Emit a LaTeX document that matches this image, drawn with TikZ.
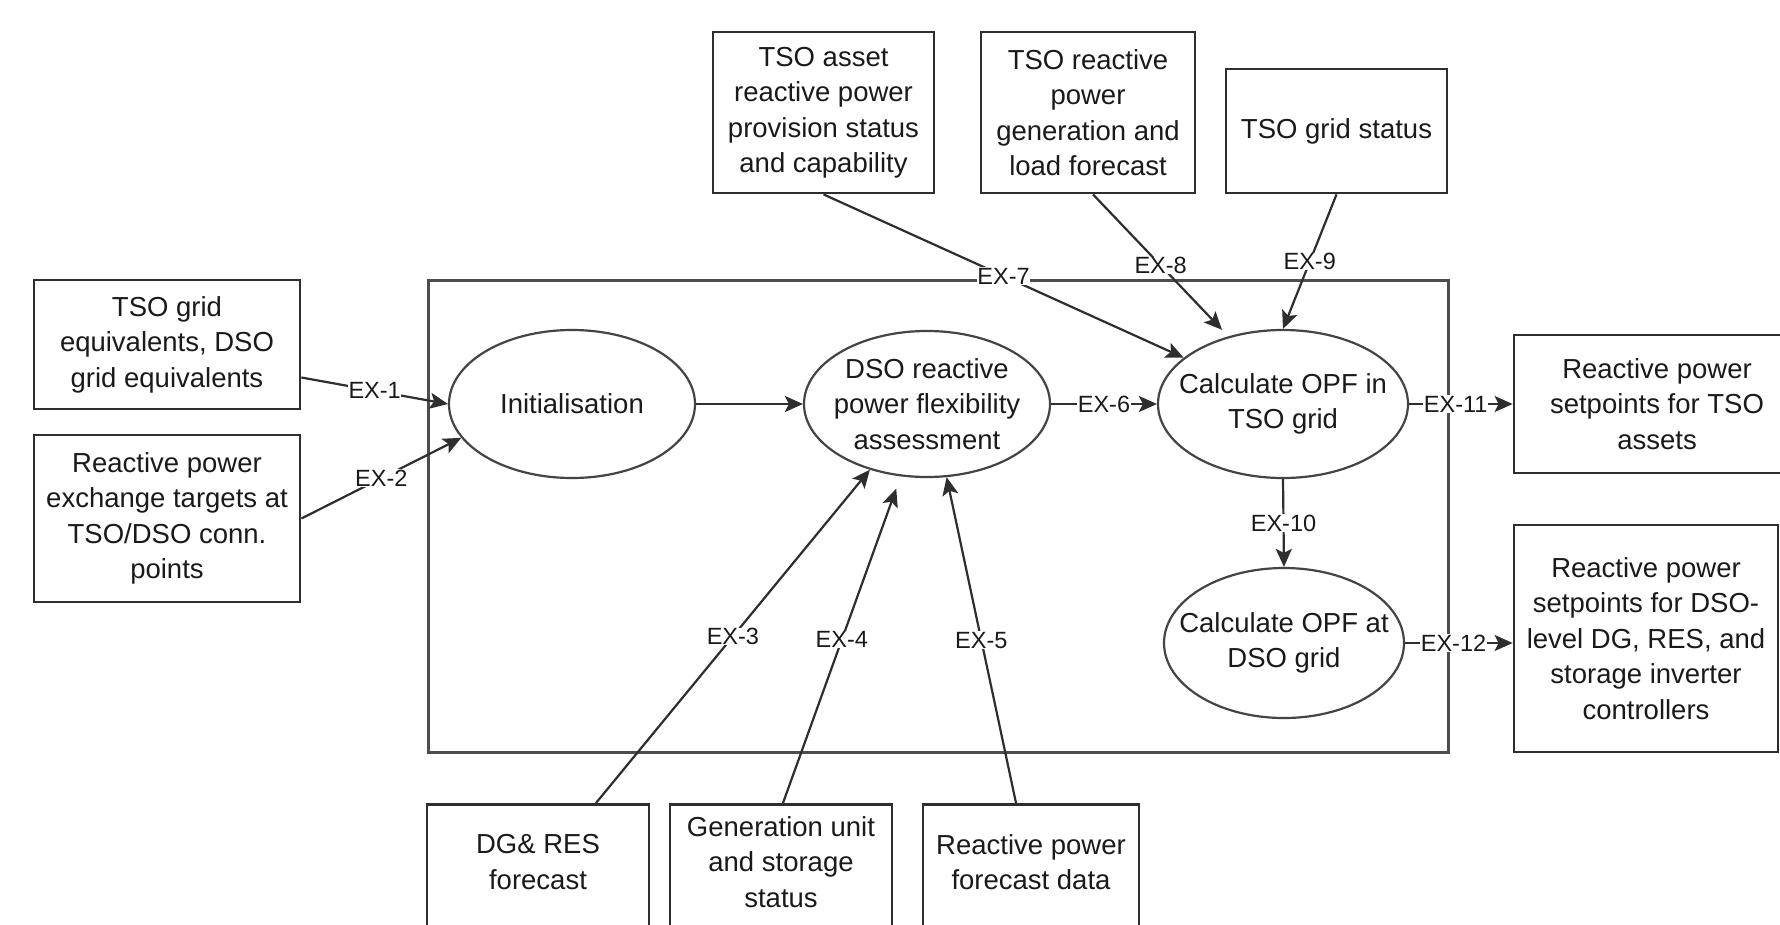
\documentclass[tikz,border=0pt]{standalone}
\usepackage{fontspec}
\setmainfont{Liberation Sans}
\usetikzlibrary{shapes.geometric,arrows.meta}
\definecolor{edgec}{HTML}{2E2E2E}
\definecolor{framec}{HTML}{4D4D4D}
\definecolor{ellc}{HTML}{444444}
\definecolor{txtc}{HTML}{1A1A1A}
\begin{document}
\begin{tikzpicture}[x=1pt,y=-1pt,
  databox/.style={draw=edgec, line width=2.8pt, fill=white, align=center,
    inner sep=0pt, text=txtc, font=\fontsize{27.5}{35.5}\selectfont},
  boxtext/.style={align=center, inner sep=0pt, text=txtc,
    font=\fontsize{27.5}{35.5}\selectfont},
  proc/.style={ellipse, draw=ellc, line width=2.2pt, fill=white, inner sep=0pt},
  flow/.style={draw=edgec, line width=2.2pt,
    -{Stealth[length=18pt,width=16pt,inset=4pt]}},
  tag/.style={fill=white, inner sep=0.5pt, text=txtc,
    font=\fontsize{23.5}{26}\selectfont}]
\clip (0,0) rectangle (1780,924);
\fill[white] (0,0) rectangle (1780,924);

% process frame
\draw[framec, line width=3pt] (428,280) rectangle (1448,752);

% inputs on the left
\node[databox, minimum width=266, minimum height=129] (A) at (167,344.5)
  {TSO grid\\equivalents, DSO\\grid equivalents};
\node[databox, minimum width=266, minimum height=167] (B) at (167,518.5)
  {Reactive power\\exchange targets at\\TSO/DSO conn.\\points};

% inputs on top
\node[databox, minimum width=221, minimum height=161] (tasset) at (823.5,112.5)
  {TSO asset\\reactive power\\provision status\\and capability};
\node[databox, minimum width=214, minimum height=161] (trp) at (1088,112.5)
  {TSO reactive\\power\\generation and\\load forecast};
\node[databox, minimum width=221, minimum height=124] (tgs) at (1336.5,131)
  {TSO grid status};

% outputs on the right
\node[databox, minimum width=286, minimum height=138] (r1) at (1657,404)
  {Reactive power\\setpoints for TSO\\assets};
\node[databox, minimum width=264, minimum height=227] (r2) at (1646,638.5)
  {Reactive power\\setpoints for DSO-\\level DG, RES, and\\storage inverter\\controllers};

% inputs at the bottom
\node[databox, minimum width=222, minimum height=150, anchor=north] (dg) at (538,803) {};
\node[boxtext] at (538,862) {DG\& RES\\forecast};
\node[databox, minimum width=222, minimum height=150, anchor=north] (gen) at (781,803) {};
\node[boxtext] at (781,862) {Generation unit\\and storage\\status};
\node[databox, minimum width=216, minimum height=150, anchor=north] (rpf) at (1031,803) {};
\node[boxtext] at (1031,862) {Reactive power\\forecast data};

% processes: fixed-size ellipses with their captions on top
\node[proc, minimum width=246, minimum height=148] (init) at (572,404) {};
\node[boxtext] at (init.center) {Initialisation};
\node[proc, minimum width=246, minimum height=146] (dso) at (927,404) {};
\node[boxtext] at (dso.center) {DSO reactive\\power flexibility\\assessment};
\node[proc, minimum width=250, minimum height=148] (opft) at (1283,404) {};
\node[boxtext] at (opft.center) {Calculate OPF in\\TSO grid};
\node[proc, minimum width=240, minimum height=150] (opfd) at (1284,643) {};
\node[boxtext] at (opfd.center) {Calculate OPF at\\DSO grid};

% exchanges
\draw[flow] ([yshift=-33pt]A.east) -- node[tag] {EX-1} (init.west);
\draw[flow] (B.east) -- node[tag] {EX-2} (init.197);
\draw[flow] (init.east) -- (dso.west);
\draw[flow] ([xshift=58pt]dg.north) -- node[tag] {EX-3} (dso.229);
\draw[flow, shorten >=13pt] ([xshift=2pt]gen.north) -- node[tag] {EX-4} (dso.250);
\draw[flow] ([xshift=-15pt]rpf.north) -- node[tag] {EX-5} (dso.285);
\draw[flow] (dso.east) -- node[tag] {EX-6} (opft.west);
\draw[flow] (tasset.south) -- node[tag] {EX-7} (opft.155);
\draw[flow, shorten >=9pt] ([xshift=5pt]trp.south) -- node[tag] {EX-8} (opft.129);
\draw[flow] (tgs.south) -- node[tag] {EX-9} (opft.north);
\draw[flow] (opft.south) -- node[tag] {EX-10} (opfd.north);
\draw[flow] (opft.east) -- node[tag, pos=0.45] {EX-11} (r1.west);
\draw[flow] (opfd.east) -- node[tag, pos=0.45] {EX-12} (opfd.east -| r2.west);
\end{tikzpicture}
\end{document}
